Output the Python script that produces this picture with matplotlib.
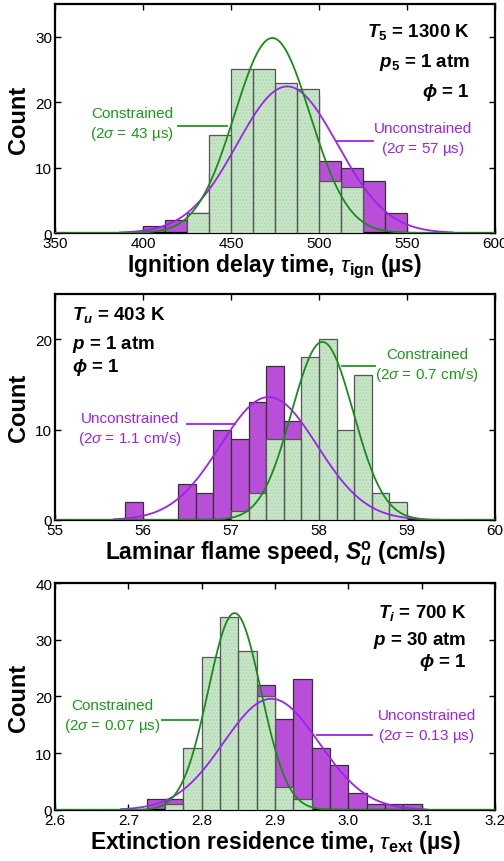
import numpy as np
import matplotlib
matplotlib.use('Agg')
import matplotlib.pyplot as plt

plt.rcParams['font.family'] = ['Liberation Sans', 'DejaVu Sans']
plt.rcParams['mathtext.fontset'] = 'custom'
plt.rcParams['mathtext.rm'] = 'Liberation Sans'
plt.rcParams['mathtext.it'] = 'Liberation Sans:italic'
plt.rcParams['mathtext.bf'] = 'Liberation Sans:bold'
plt.rcParams['mathtext.bfit'] = 'Liberation Sans:italic:bold'

# ---- ignition delay time (us)
ign_edges = [400, 412.5, 425, 437.5, 450, 462.5, 475, 487.5, 500, 512.5, 525, 537.5, 550]
ign_unc = [1, 2, 3, 9, 17, 21, 22, 21, 11, 10, 8, 3]
ign_con = [0, 0, 3, 15, 25, 25, 23, 22, 8, 7, 0, 0]
ign_fit_con = (473.5, 21.5, 29.8)   # mean, sigma, peak
ign_fit_unc = (482.0, 28.5, 22.4)
ign_unc_range = (387, 576)

# ---- laminar flame speed (cm/s)
sl_edges = [55.8, 56.0, 56.2, 56.4, 56.6, 56.8, 57.0, 57.2, 57.4, 57.6, 57.8,
            58.0, 58.2, 58.4, 58.6, 58.8, 59.0]
sl_unc = [2, 0, 0, 4, 3, 10, 9, 13, 17, 11, 8, 6, 4, 3, 1, 0]
sl_con = [0, 0, 0, 0, 0, 0, 1, 3, 9, 9, 18, 20, 10, 16, 3, 2]
sl_fit_con = (58.04, 0.35, 19.7)
sl_fit_unc = (57.43, 0.55, 13.6)
sl_unc_range = (55.67, 59.17)

# ---- extinction residence time (us)
ext_edges = [2.725, 2.75, 2.775, 2.8, 2.825, 2.85, 2.875, 2.9, 2.925, 2.95,
             2.975, 3.0, 3.025, 3.05, 3.075, 3.1]
ext_unc = [2, 2, 3, 8, 12, 14, 22, 16, 23, 11, 8, 3, 1, 1, 1]
ext_con = [0, 1, 11, 27, 34, 28, 20, 4, 2, 0, 0, 0, 0, 0, 0]
ext_fit_con = (2.845, 0.036, 34.7)
ext_fit_unc = (2.895, 0.065, 19.6)
ext_unc_range = (2.69, 3.107)

GREEN_FACE = '#c8e6c8'
GREEN_LINE = '#1b8a1b'
GREEN_TEXT = '#1a9a1a'
PURPLE_FACE = '#b94fd8'
PURPLE_LINE = '#a020f0'


def gauss(x, fit):
    mu, sig, peak = fit
    return peak * np.exp(-0.5 * ((x - mu) / sig) ** 2)


def draw_panel(ax, edges, unc, con, fit_con, fit_unc, unc_range, xlim):
    edges = np.array(edges)
    w = np.diff(edges)
    unc = np.array(unc)
    con = np.array(con)
    m = unc > 0
    ax.bar(edges[:-1][m], unc[m], width=w[m], align='edge', color=PURPLE_FACE,
           edgecolor='#333333', linewidth=0.9, zorder=2)
    m = con > 0
    ax.bar(edges[:-1][m], con[m], width=w[m], align='edge', color=GREEN_FACE,
           linewidth=0, zorder=3)
    ax.bar(edges[:-1][m], con[m], width=w[m], align='edge', color='none',
           edgecolor='#b3d8b3', linewidth=0, hatch='.....', zorder=3.1)
    ax.bar(edges[:-1][m], con[m], width=w[m], align='edge', color='none',
           edgecolor='#555555', linewidth=0.9, zorder=3.2)
    xu = np.linspace(unc_range[0], unc_range[1], 300)
    ax.plot(xu, gauss(xu, fit_unc), color=PURPLE_LINE, lw=1.3, zorder=4)
    xc = np.linspace(xlim[0], xlim[1], 400)
    ax.plot(xc, gauss(xc, fit_con), color=GREEN_LINE, lw=1.3, zorder=5)
    ax.set_xlim(xlim)
    ax.tick_params(direction='in', top=True, right=True, length=4, width=1,
                   labelsize=11, pad=2)
    for s in ax.spines.values():
        s.set_linewidth(1.6)
    ax.set_ylabel('Count', fontsize=17, fontweight='bold', labelpad=4,
                  family=['Liberation Sans Narrow', 'Liberation Sans'])


def note(ax, x, y, text, color, lx, ly):
    ax.text(x, y, text, color=color, fontsize=11, ha='center', va='center',
            linespacing=1.3, zorder=6)
    ax.plot(lx, ly, color=color, lw=1.3, zorder=6)


fig = plt.figure(figsize=(5.04, 8.62), dpi=100)
ax1 = fig.add_axes([0.109, 0.7285, 0.873, 0.2657])
ax2 = fig.add_axes([0.109, 0.3956, 0.873, 0.2622])
ax3 = fig.add_axes([0.109, 0.0592, 0.873, 0.2633])

# panel 1
draw_panel(ax1, ign_edges, ign_unc, ign_con, ign_fit_con, ign_fit_unc, ign_unc_range, (350, 600))
ax1.set_ylim(0, 35)
ax1.set_yticks([0, 10, 20, 30])
ax1.set_xlabel(r'Ignition delay time, $\tau_{\mathbf{ign}}$ (µs)', fontsize=16.5,
               fontweight='bold', labelpad=1)
note(ax1, 394, 16.7, 'Constrained\n(2$\\sigma$ = 43 µs)', GREEN_TEXT, [420, 448], [16.4, 16.4])
note(ax1, 559, 14.4, 'Unconstrained\n(2$\\sigma$ = 57 µs)', PURPLE_LINE, [510, 531], [14.0, 14.0])
ax1.text(0.943, 0.882, r'$\mathbfit{T}_\mathbf{5}$ = 1300 K', transform=ax1.transAxes,
         ha='right', va='center', fontsize=13.5, fontweight='bold')
ax1.text(0.943, 0.751, r'$\mathbfit{p}_\mathbf{5}$ = 1 atm', transform=ax1.transAxes,
         ha='right', va='center', fontsize=13.5, fontweight='bold')
ax1.text(0.943, 0.616, r'$\mathbfit{\phi}$ = 1', transform=ax1.transAxes,
         ha='right', va='center', fontsize=13.5, fontweight='bold')

# panel 2
draw_panel(ax2, sl_edges, sl_unc, sl_con, sl_fit_con, sl_fit_unc, sl_unc_range, (55, 60))
ax2.set_ylim(0, 25)
ax2.set_yticks([0, 10, 20])
ax2.set_xlabel(r'Laminar flame speed, $\mathbfit{S}_\mathbfit{u}^\mathbf{o}$ (cm/s)', fontsize=16.5,
               fontweight='bold', labelpad=1)
note(ax2, 59.23, 17.1, 'Constrained\n(2$\\sigma$ = 0.7 cm/s)', GREEN_TEXT, [58.26, 58.64], [17.0, 17.0])
note(ax2, 55.85, 10.1, 'Unconstrained\n(2$\\sigma$ = 1.1 cm/s)', PURPLE_LINE, [56.5, 57.05], [10.6, 10.6])
ax2.text(0.039, 0.912, r'$\mathbfit{T}_\mathbfit{u}$ = 403 K', transform=ax2.transAxes,
         ha='left', va='center', fontsize=13.5, fontweight='bold')
ax2.text(0.039, 0.779, r'$\mathbfit{p}$ = 1 atm', transform=ax2.transAxes,
         ha='left', va='center', fontsize=13.5, fontweight='bold')
ax2.text(0.039, 0.677, r'$\mathbfit{\phi}$ = 1', transform=ax2.transAxes,
         ha='left', va='center', fontsize=13.5, fontweight='bold')

# panel 3
draw_panel(ax3, ext_edges, ext_unc, ext_con, ext_fit_con, ext_fit_unc, ext_unc_range, (2.6, 3.2))
ax3.set_ylim(0, 40)
ax3.set_yticks([0, 10, 20, 30, 40])
ax3.set_xticks([2.6, 2.7, 2.8, 2.9, 3.0, 3.1, 3.2])
ax3.set_xticklabels(['2.6', '2.7', '2.8', '2.9', '3.0', '3.1', '3.2'])
ax3.set_xlabel(r'Extinction residence time, $\tau_{\mathbf{ext}}$ (µs)', fontsize=16.5,
               fontweight='bold', labelpad=1)
note(ax3, 2.678, 16.5, 'Constrained\n(2$\\sigma$ = 0.07 µs)', GREEN_TEXT, [2.746, 2.795], [15.9, 15.9])
note(ax3, 3.107, 14.8, 'Unconstrained\n(2$\\sigma$ = 0.13 µs)', PURPLE_LINE, [2.957, 3.032], [13.2, 13.2])
ax3.text(0.936, 0.872, r'$\mathbfit{T}_\mathbfit{i}$ = 700 K', transform=ax3.transAxes,
         ha='right', va='center', fontsize=13.5, fontweight='bold')
ax3.text(0.936, 0.749, r'$\mathbfit{p}$ = 30 atm', transform=ax3.transAxes,
         ha='right', va='center', fontsize=13.5, fontweight='bold')
ax3.text(0.936, 0.652, r'$\mathbfit{\phi}$ = 1', transform=ax3.transAxes,
         ha='right', va='center', fontsize=13.5, fontweight='bold')

fig.patch.set_facecolor('white')
fig.savefig('out.png', dpi=100)
